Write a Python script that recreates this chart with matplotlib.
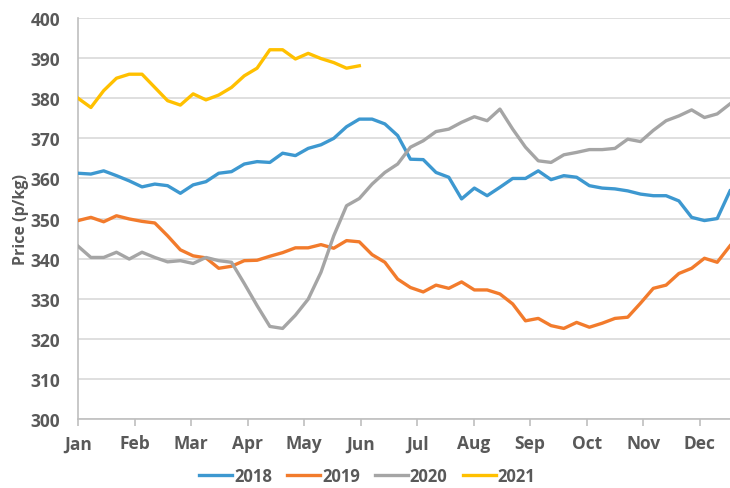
import numpy as np
import matplotlib.pyplot as plt

months = ['Jan', 'Feb', 'Mar', 'Apr', 'May', 'Jun', 'Jul', 'Aug', 'Sep', 'Oct', 'Nov', 'Dec']

# weekly prices (p/kg), one point per week
p2018 = [361.3, 361.1, 361.9, 360.7, 359.4, 357.9, 358.6, 358.2, 356.3, 358.4,
         359.2, 361.3, 361.7, 363.6, 364.2, 364.0, 366.3, 365.7, 367.5, 368.4,
         370.0, 372.9, 374.8, 374.8, 373.6, 370.7, 364.8, 364.7, 361.5, 360.3,
         354.9, 357.6, 355.7, 357.8, 360.0, 360.0, 361.9, 359.7, 360.7, 360.3,
         358.2, 357.6, 357.4, 356.9, 356.1, 355.7, 355.7, 354.4, 350.3, 349.5,
         350.0, 356.9]
p2019 = [349.5, 350.3, 349.2, 350.7, 349.9, 349.3, 348.9, 345.7, 342.2, 340.7,
         340.2, 337.6, 338.1, 339.5, 339.6, 340.6, 341.5, 342.7, 342.7, 343.5,
         342.6, 344.5, 344.2, 341.0, 339.1, 334.9, 332.8, 331.7, 333.4, 332.6,
         334.2, 332.2, 332.2, 331.2, 328.7, 324.5, 325.1, 323.3, 322.6, 324.1,
         322.9, 323.9, 325.1, 325.4, 328.9, 332.6, 333.4, 336.3, 337.6, 340.1,
         339.1, 343.2]
p2020 = [343.1, 340.3, 340.3, 341.6, 339.9, 341.6, 340.3, 339.2, 339.5, 338.8,
         340.3, 339.5, 339.1, 333.8, 328.3, 323.1, 322.6, 325.9, 329.9, 336.6,
         345.7, 353.2, 355.0, 358.6, 361.5, 363.6, 367.8, 369.4, 371.7, 372.3,
         374.0, 375.4, 374.4, 377.3, 372.3, 367.8, 364.4, 364.0, 365.9, 366.5,
         367.2, 367.2, 367.5, 369.8, 369.2, 372.0, 374.4, 375.6, 377.1, 375.2,
         376.1, 378.6]
p2021 = [380.0, 377.7, 381.9, 385.0, 386.0, 386.0, 382.7, 379.4, 378.3, 381.1,
         379.6, 380.8, 382.7, 385.6, 387.5, 392.1, 392.1, 389.8, 391.2, 389.9,
         388.9, 387.5, 388.1]

txt = '#595959'
plt.rcParams['font.family'] = ['Open Sans', 'DejaVu Sans']

fig = plt.figure(figsize=(7.3, 4.89), dpi=100)
ax = fig.add_axes([0.107, 0.141, 0.893, 0.82])

series = [('2018', p2018, '#3d98d0'), ('2019', p2019, '#f27b2c'),
          ('2020', p2020, '#a5a5a5'), ('2021', p2021, '#ffc000')]
for name, vals, col in series:
    ax.plot(np.arange(len(vals)), vals, color=col, lw=2.4, label=name,
            solid_joinstyle='round', zorder=3)

ax.set_xlim(0, 51)
ax.set_ylim(300, 400)
ax.set_xticks(np.arange(12) * 4.42)
ax.set_xticklabels(months)
ax.set_yticks(np.arange(300, 401, 10))
ax.yaxis.grid(True, color='#d9d9d9', lw=1.2)
ax.set_axisbelow(True)

for s in ['top', 'right']:
    ax.spines[s].set_visible(False)
for s in ['left', 'bottom']:
    ax.spines[s].set_color('#bfbfbf')
    ax.spines[s].set_linewidth(1.2)

ax.tick_params(axis='y', length=0, pad=13, labelsize=12.5, labelcolor=txt)
ax.tick_params(axis='x', length=5, color='#bfbfbf', width=1.2, pad=6,
               labelsize=12.5, labelcolor=txt)
for lab in ax.get_xticklabels() + ax.get_yticklabels():
    lab.set_fontweight('bold')

ax.set_ylabel('Price (p/kg)', fontsize=11.5, fontweight='bold', color=txt, labelpad=1)

leg = fig.legend(loc='center', bbox_to_anchor=(0.503, 0.024), ncol=4,
                 frameon=False, handlelength=2.0, columnspacing=0.9,
                 handletextpad=0.1, borderpad=0.1, prop={'size': 12, 'weight': 'bold'})
for t in leg.get_texts():
    t.set_color(txt)

fig.savefig('out.png', dpi=100)
